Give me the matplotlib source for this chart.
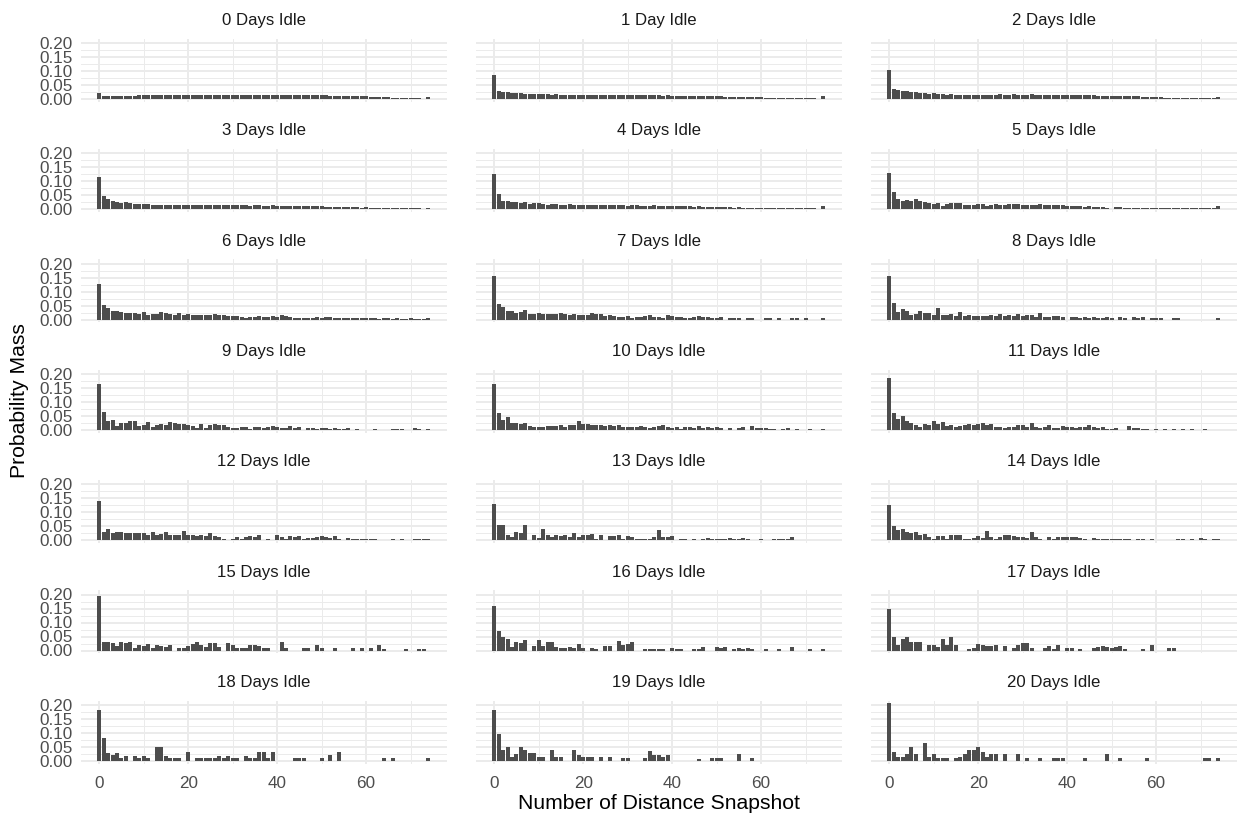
import numpy as np
import matplotlib
matplotlib.use("Agg")
import matplotlib.pyplot as plt
from matplotlib.ticker import FixedLocator

plt.rcParams['font.family'] = ['Liberation Sans', 'DejaVu Sans']

snapshot = np.arange(75)
panel_titles = ["0 Days Idle", "1 Day Idle", "2 Days Idle", "3 Days Idle", "4 Days Idle",
                "5 Days Idle", "6 Days Idle", "7 Days Idle", "8 Days Idle", "9 Days Idle",
                "10 Days Idle", "11 Days Idle", "12 Days Idle", "13 Days Idle", "14 Days Idle",
                "15 Days Idle", "16 Days Idle", "17 Days Idle", "18 Days Idle", "19 Days Idle",
                "20 Days Idle"]
x_ticks = [0, 20, 40, 60]
y_ticks = [0.00, 0.05, 0.10, 0.15, 0.20]
y_tick_labels = ["0.00", "0.05", "0.10", "0.15", "0.20"]

idle_00 = [0.020, 0.012, 0.011, 0.011, 0.011, 0.012, 0.011, 0.012, 0.012, 0.013,
           0.013, 0.013, 0.013, 0.013, 0.014, 0.013, 0.014, 0.014, 0.014, 0.014,
           0.014, 0.014, 0.014, 0.015, 0.014, 0.014, 0.015, 0.014, 0.014, 0.014,
           0.015, 0.014, 0.014, 0.014, 0.015, 0.014, 0.014, 0.014, 0.014, 0.014,
           0.015, 0.014, 0.014, 0.014, 0.014, 0.014, 0.014, 0.014, 0.013, 0.013,
           0.013, 0.013, 0.012, 0.012, 0.012, 0.011, 0.011, 0.010, 0.010, 0.009,
           0.009, 0.008, 0.007, 0.007, 0.006, 0.006, 0.005, 0.005, 0.004, 0.003,
           0.003, 0.002, 0.002, 0.001, 0.008]
idle_01 = [0.085, 0.030, 0.026, 0.024, 0.022, 0.021, 0.020, 0.019, 0.019, 0.018,
           0.018, 0.017, 0.017, 0.016, 0.017, 0.016, 0.016, 0.015, 0.016, 0.015,
           0.015, 0.015, 0.015, 0.014, 0.015, 0.014, 0.014, 0.015, 0.014, 0.014,
           0.014, 0.014, 0.013, 0.014, 0.013, 0.013, 0.013, 0.013, 0.012, 0.013,
           0.012, 0.012, 0.012, 0.011, 0.011, 0.011, 0.010, 0.010, 0.010, 0.009,
           0.009, 0.009, 0.008, 0.008, 0.008, 0.007, 0.007, 0.007, 0.006, 0.007,
           0.006, 0.005, 0.005, 0.005, 0.004, 0.004, 0.004, 0.004, 0.003, 0.003,
           0.003, 0.002, 0.002, 0.001, 0.009]
idle_02 = [0.105, 0.037, 0.031, 0.027, 0.027, 0.024, 0.025, 0.021, 0.022, 0.019,
           0.020, 0.017, 0.018, 0.016, 0.017, 0.016, 0.016, 0.016, 0.015, 0.016,
           0.016, 0.015, 0.015, 0.016, 0.015, 0.017, 0.014, 0.015, 0.018, 0.014,
           0.015, 0.014, 0.017, 0.014, 0.014, 0.013, 0.014, 0.013, 0.015, 0.013,
           0.013, 0.014, 0.013, 0.013, 0.014, 0.013, 0.013, 0.012, 0.012, 0.012,
           0.011, 0.011, 0.010, 0.010, 0.009, 0.009, 0.009, 0.008, 0.007, 0.008,
           0.006, 0.006, 0.005, 0.005, 0.005, 0.004, 0.004, 0.003, 0.003, 0.003,
           0.003, 0.002, 0.002, 0.002, 0.008]
idle_03 = [0.115, 0.047, 0.036, 0.028, 0.026, 0.022, 0.027, 0.021, 0.019, 0.020,
           0.018, 0.018, 0.017, 0.017, 0.016, 0.016, 0.015, 0.016, 0.016, 0.015,
           0.015, 0.014, 0.015, 0.016, 0.015, 0.014, 0.014, 0.016, 0.014, 0.015,
           0.014, 0.016, 0.015, 0.014, 0.013, 0.014, 0.015, 0.013, 0.012, 0.014,
           0.012, 0.013, 0.012, 0.012, 0.013, 0.011, 0.012, 0.011, 0.010, 0.011,
           0.010, 0.009, 0.008, 0.009, 0.008, 0.008, 0.007, 0.008, 0.007, 0.006,
           0.007, 0.004, 0.006, 0.005, 0.004, 0.005, 0.004, 0.004, 0.003, 0.004,
           0.003, 0.003, 0.003, 0.002, 0.006]
idle_04 = [0.125, 0.055, 0.030, 0.029, 0.027, 0.026, 0.022, 0.025, 0.020, 0.021,
           0.022, 0.019, 0.017, 0.020, 0.018, 0.016, 0.017, 0.018, 0.016, 0.017,
           0.016, 0.015, 0.016, 0.017, 0.015, 0.016, 0.014, 0.015, 0.015, 0.014,
           0.013, 0.015, 0.014, 0.013, 0.012, 0.013, 0.014, 0.012, 0.011, 0.012,
           0.011, 0.012, 0.010, 0.010, 0.011, 0.009, 0.010, 0.009, 0.008, 0.009,
           0.008, 0.007, 0.007, 0.008, 0.006, 0.007, 0.006, 0.005, 0.006, 0.005,
           0.005, 0.006, 0.004, 0.005, 0.004, 0.005, 0.004, 0.004, 0.003, 0.004,
           0.003, 0.003, 0.003, 0.002, 0.010]
idle_05 = [0.130, 0.060, 0.035, 0.031, 0.033, 0.031, 0.036, 0.030, 0.025, 0.023,
           0.020, 0.022, 0.013, 0.020, 0.021, 0.022, 0.021, 0.017, 0.014, 0.017,
           0.019, 0.018, 0.013, 0.016, 0.018, 0.017, 0.015, 0.019, 0.020, 0.018,
           0.015, 0.016, 0.017, 0.015, 0.018, 0.015, 0.016, 0.015, 0.016, 0.015,
           0.013, 0.012, 0.012, 0.011, 0.008, 0.010, 0.007, 0.009, 0.009, 0.005,
           0.000, 0.009, 0.008, 0.006, 0.004, 0.004, 0.005, 0.006, 0.004, 0.004,
           0.005, 0.004, 0.003, 0.005, 0.004, 0.003, 0.004, 0.003, 0.004, 0.004,
           0.003, 0.003, 0.004, 0.003, 0.013]
idle_06 = [0.128, 0.052, 0.040, 0.030, 0.029, 0.028, 0.022, 0.025, 0.023, 0.021,
           0.026, 0.018, 0.021, 0.019, 0.027, 0.022, 0.019, 0.018, 0.022, 0.018,
           0.020, 0.018, 0.016, 0.016, 0.018, 0.015, 0.019, 0.018, 0.016, 0.013,
           0.012, 0.013, 0.011, 0.007, 0.010, 0.011, 0.013, 0.009, 0.008, 0.013,
           0.010, 0.016, 0.013, 0.009, 0.006, 0.004, 0.006, 0.005, 0.007, 0.008,
           0.007, 0.008, 0.008, 0.006, 0.005, 0.007, 0.004, 0.004, 0.004, 0.005,
           0.004, 0.004, 0.004, 0.003, 0.004, 0.004, 0.003, 0.004, 0.003, 0.003,
           0.004, 0.003, 0.002, 0.003, 0.005]
idle_07 = [0.155, 0.057, 0.045, 0.031, 0.030, 0.024, 0.027, 0.035, 0.021, 0.020,
           0.022, 0.020, 0.021, 0.020, 0.019, 0.022, 0.020, 0.018, 0.019, 0.017,
           0.015, 0.018, 0.022, 0.021, 0.020, 0.014, 0.018, 0.012, 0.011, 0.010,
           0.013, 0.006, 0.011, 0.009, 0.013, 0.016, 0.011, 0.009, 0.007, 0.018,
           0.012, 0.009, 0.011, 0.006, 0.005, 0.008, 0.012, 0.010, 0.008, 0.004,
           0.004, 0.010, 0.000, 0.007, 0.004, 0.004, 0.000, 0.006, 0.005, 0.000,
           0.000, 0.004, 0.004, 0.000, 0.004, 0.000, 0.000, 0.004, 0.004, 0.000,
           0.004, 0.000, 0.000, 0.000, 0.004]
idle_08 = [0.155, 0.060, 0.028, 0.037, 0.030, 0.018, 0.020, 0.030, 0.022, 0.025,
           0.018, 0.040, 0.015, 0.018, 0.020, 0.014, 0.028, 0.014, 0.015, 0.012,
           0.013, 0.012, 0.014, 0.015, 0.013, 0.020, 0.012, 0.015, 0.012, 0.020,
           0.012, 0.016, 0.018, 0.010, 0.024, 0.008, 0.008, 0.012, 0.013, 0.008,
           0.000, 0.008, 0.010, 0.006, 0.009, 0.005, 0.008, 0.007, 0.004, 0.009,
           0.005, 0.000, 0.008, 0.004, 0.000, 0.008, 0.005, 0.009, 0.000, 0.004,
           0.007, 0.005, 0.000, 0.000, 0.007, 0.004, 0.000, 0.000, 0.000, 0.000,
           0.000, 0.000, 0.000, 0.000, 0.004]
idle_09 = [0.165, 0.065, 0.030, 0.035, 0.015, 0.024, 0.025, 0.031, 0.030, 0.014,
           0.018, 0.027, 0.011, 0.019, 0.020, 0.016, 0.029, 0.024, 0.021, 0.020,
           0.016, 0.014, 0.008, 0.020, 0.006, 0.017, 0.021, 0.019, 0.019, 0.012,
           0.008, 0.007, 0.010, 0.012, 0.004, 0.010, 0.012, 0.005, 0.009, 0.013,
           0.010, 0.008, 0.007, 0.015, 0.005, 0.009, 0.000, 0.006, 0.007, 0.004,
           0.008, 0.007, 0.004, 0.008, 0.004, 0.004, 0.007, 0.000, 0.004, 0.000,
           0.000, 0.000, 0.004, 0.000, 0.000, 0.000, 0.004, 0.004, 0.004, 0.000,
           0.000, 0.005, 0.004, 0.000, 0.004]
idle_10 = [0.165, 0.060, 0.035, 0.045, 0.024, 0.026, 0.022, 0.025, 0.015, 0.010,
           0.012, 0.012, 0.014, 0.013, 0.015, 0.016, 0.012, 0.017, 0.018, 0.030,
           0.020, 0.021, 0.019, 0.016, 0.016, 0.014, 0.018, 0.014, 0.016, 0.010,
           0.012, 0.009, 0.011, 0.013, 0.012, 0.006, 0.010, 0.014, 0.016, 0.010,
           0.008, 0.009, 0.004, 0.012, 0.010, 0.005, 0.014, 0.008, 0.012, 0.008,
           0.010, 0.007, 0.000, 0.006, 0.000, 0.006, 0.010, 0.000, 0.013, 0.006,
           0.005, 0.006, 0.004, 0.004, 0.000, 0.004, 0.005, 0.000, 0.004, 0.000,
           0.000, 0.004, 0.000, 0.000, 0.004]
idle_11 = [0.185, 0.060, 0.038, 0.050, 0.030, 0.026, 0.018, 0.012, 0.020, 0.019,
           0.030, 0.020, 0.027, 0.014, 0.016, 0.010, 0.014, 0.017, 0.020, 0.018,
           0.022, 0.023, 0.018, 0.020, 0.012, 0.010, 0.008, 0.012, 0.010, 0.016,
           0.016, 0.012, 0.024, 0.012, 0.008, 0.010, 0.016, 0.007, 0.008, 0.014,
           0.010, 0.010, 0.005, 0.012, 0.012, 0.016, 0.011, 0.008, 0.009, 0.004,
           0.004, 0.008, 0.000, 0.000, 0.015, 0.006, 0.006, 0.004, 0.004, 0.000,
           0.004, 0.000, 0.004, 0.000, 0.004, 0.000, 0.004, 0.000, 0.004, 0.000,
           0.000, 0.004, 0.000, 0.000, 0.000]
idle_12 = [0.140, 0.030, 0.040, 0.025, 0.028, 0.031, 0.026, 0.025, 0.027, 0.026,
           0.027, 0.018, 0.030, 0.020, 0.022, 0.030, 0.020, 0.017, 0.020, 0.034,
           0.020, 0.019, 0.014, 0.018, 0.014, 0.025, 0.016, 0.010, 0.004, 0.000,
           0.006, 0.010, 0.005, 0.010, 0.014, 0.012, 0.018, 0.000, 0.006, 0.000,
           0.018, 0.013, 0.006, 0.014, 0.011, 0.016, 0.005, 0.007, 0.008, 0.011,
           0.015, 0.011, 0.009, 0.014, 0.004, 0.000, 0.007, 0.004, 0.004, 0.004,
           0.004, 0.004, 0.004, 0.000, 0.000, 0.000, 0.004, 0.000, 0.004, 0.000,
           0.000, 0.004, 0.004, 0.004, 0.004]
idle_13 = [0.130, 0.055, 0.055, 0.020, 0.011, 0.028, 0.025, 0.055, 0.000, 0.018,
           0.008, 0.040, 0.018, 0.011, 0.020, 0.016, 0.018, 0.010, 0.027, 0.010,
           0.018, 0.020, 0.022, 0.006, 0.020, 0.000, 0.016, 0.015, 0.018, 0.006,
           0.014, 0.012, 0.006, 0.005, 0.004, 0.006, 0.012, 0.035, 0.012, 0.010,
           0.014, 0.000, 0.006, 0.004, 0.000, 0.006, 0.000, 0.006, 0.007, 0.004,
           0.006, 0.005, 0.005, 0.007, 0.006, 0.006, 0.008, 0.006, 0.000, 0.000,
           0.004, 0.000, 0.000, 0.006, 0.005, 0.005, 0.005, 0.010, 0.000, 0.000,
           0.000, 0.000, 0.000, 0.000, 0.000]
idle_14 = [0.125, 0.050, 0.035, 0.040, 0.029, 0.026, 0.028, 0.018, 0.022, 0.012,
           0.005, 0.014, 0.014, 0.006, 0.020, 0.020, 0.018, 0.004, 0.004, 0.008,
           0.014, 0.008, 0.034, 0.010, 0.005, 0.012, 0.018, 0.018, 0.014, 0.012,
           0.013, 0.008, 0.030, 0.012, 0.006, 0.000, 0.012, 0.004, 0.010, 0.010,
           0.010, 0.010, 0.012, 0.008, 0.006, 0.000, 0.008, 0.006, 0.006, 0.004,
           0.006, 0.004, 0.006, 0.006, 0.004, 0.000, 0.004, 0.004, 0.000, 0.004,
           0.000, 0.000, 0.000, 0.000, 0.000, 0.004, 0.004, 0.000, 0.004, 0.000,
           0.008, 0.004, 0.000, 0.004, 0.004]
idle_15 = [0.195, 0.032, 0.032, 0.028, 0.016, 0.030, 0.028, 0.032, 0.010, 0.020,
           0.016, 0.024, 0.010, 0.020, 0.016, 0.012, 0.018, 0.000, 0.010, 0.010,
           0.016, 0.022, 0.030, 0.020, 0.012, 0.026, 0.026, 0.014, 0.000, 0.026,
           0.018, 0.010, 0.008, 0.010, 0.018, 0.018, 0.016, 0.010, 0.008, 0.000,
           0.000, 0.032, 0.008, 0.000, 0.000, 0.000, 0.010, 0.010, 0.000, 0.018,
           0.010, 0.000, 0.000, 0.010, 0.000, 0.000, 0.000, 0.010, 0.000, 0.008,
           0.000, 0.008, 0.000, 0.020, 0.006, 0.000, 0.000, 0.000, 0.000, 0.006,
           0.000, 0.000, 0.006, 0.006, 0.000]
idle_16 = [0.160, 0.068, 0.050, 0.042, 0.014, 0.030, 0.028, 0.038, 0.000, 0.015,
           0.038, 0.015, 0.030, 0.030, 0.014, 0.010, 0.008, 0.012, 0.008, 0.022,
           0.008, 0.000, 0.010, 0.006, 0.000, 0.015, 0.015, 0.000, 0.035, 0.018,
           0.022, 0.030, 0.000, 0.000, 0.006, 0.005, 0.005, 0.005, 0.005, 0.000,
           0.010, 0.006, 0.006, 0.000, 0.000, 0.004, 0.006, 0.012, 0.000, 0.000,
           0.012, 0.008, 0.012, 0.000, 0.006, 0.010, 0.005, 0.008, 0.004, 0.000,
           0.000, 0.005, 0.000, 0.000, 0.005, 0.000, 0.000, 0.012, 0.000, 0.000,
           0.000, 0.005, 0.000, 0.000, 0.005]
idle_17 = [0.150, 0.050, 0.020, 0.040, 0.048, 0.030, 0.030, 0.030, 0.000, 0.018,
           0.018, 0.012, 0.040, 0.018, 0.050, 0.018, 0.000, 0.000, 0.006, 0.008,
           0.024, 0.018, 0.016, 0.016, 0.020, 0.000, 0.016, 0.000, 0.010, 0.020,
           0.026, 0.026, 0.010, 0.000, 0.000, 0.008, 0.016, 0.006, 0.018, 0.000,
           0.008, 0.008, 0.000, 0.006, 0.000, 0.000, 0.010, 0.012, 0.016, 0.012,
           0.010, 0.012, 0.016, 0.006, 0.000, 0.000, 0.000, 0.006, 0.000, 0.018,
           0.000, 0.000, 0.000, 0.008, 0.008, 0.000, 0.000, 0.000, 0.000, 0.000,
           0.000, 0.000, 0.000, 0.000, 0.000]
idle_18 = [0.180, 0.080, 0.028, 0.020, 0.028, 0.010, 0.018, 0.000, 0.018, 0.010,
           0.018, 0.010, 0.000, 0.050, 0.050, 0.018, 0.010, 0.010, 0.010, 0.000,
           0.030, 0.000, 0.010, 0.010, 0.010, 0.010, 0.010, 0.016, 0.010, 0.018,
           0.010, 0.010, 0.000, 0.018, 0.010, 0.010, 0.030, 0.030, 0.010, 0.030,
           0.000, 0.000, 0.000, 0.000, 0.010, 0.010, 0.010, 0.000, 0.000, 0.000,
           0.010, 0.000, 0.020, 0.000, 0.030, 0.000, 0.000, 0.000, 0.000, 0.000,
           0.000, 0.000, 0.000, 0.000, 0.010, 0.000, 0.010, 0.000, 0.000, 0.000,
           0.000, 0.000, 0.000, 0.000, 0.010]
idle_19 = [0.180, 0.095, 0.038, 0.048, 0.015, 0.025, 0.048, 0.038, 0.028, 0.027,
           0.015, 0.014, 0.000, 0.038, 0.012, 0.012, 0.000, 0.000, 0.038, 0.022,
           0.012, 0.014, 0.012, 0.000, 0.012, 0.000, 0.012, 0.000, 0.000, 0.010,
           0.010, 0.000, 0.000, 0.000, 0.010, 0.036, 0.020, 0.020, 0.012, 0.022,
           0.000, 0.000, 0.000, 0.000, 0.000, 0.000, 0.008, 0.000, 0.000, 0.010,
           0.010, 0.010, 0.000, 0.000, 0.000, 0.025, 0.000, 0.000, 0.010, 0.000,
           0.000, 0.000, 0.000, 0.000, 0.000, 0.000, 0.000, 0.000, 0.000, 0.000,
           0.000, 0.000, 0.000, 0.000, 0.000]
idle_20 = [0.205, 0.030, 0.015, 0.015, 0.025, 0.050, 0.025, 0.000, 0.065, 0.015,
           0.025, 0.010, 0.010, 0.010, 0.000, 0.010, 0.015, 0.025, 0.040, 0.040,
           0.050, 0.030, 0.015, 0.025, 0.025, 0.000, 0.025, 0.000, 0.000, 0.025,
           0.000, 0.010, 0.000, 0.000, 0.010, 0.000, 0.000, 0.010, 0.010, 0.010,
           0.000, 0.000, 0.000, 0.000, 0.010, 0.000, 0.000, 0.000, 0.000, 0.025,
           0.000, 0.000, 0.010, 0.000, 0.000, 0.000, 0.000, 0.000, 0.010, 0.000,
           0.000, 0.000, 0.000, 0.000, 0.000, 0.000, 0.000, 0.000, 0.000, 0.000,
           0.000, 0.010, 0.010, 0.000, 0.010]

panels = [idle_00, idle_01, idle_02, idle_03, idle_04, idle_05, idle_06,
          idle_07, idle_08, idle_09, idle_10, idle_11, idle_12, idle_13,
          idle_14, idle_15, idle_16, idle_17, idle_18, idle_19, idle_20]

W, H = 1239, 813
fig = plt.figure(figsize=(W / 100, H / 100), dpi=100)
fig.patch.set_facecolor("white")

col_left = [80.5, 475.5, 870.5]
panel_w = 366.5
zero_y = 99.0
row_step = 110.3
ppu = 280.0
ymax_all = max(max(p) for p in panels)
ymin, ymax = -0.05 * ymax_all, 1.05 * ymax_all
panel_h = (ymax - ymin) * ppu
xmin, xmax = -0.45 - 0.05 * 74.9, 74.45 + 0.05 * 74.9

grid_col = "#EBEBEB"
for i, (vals, title) in enumerate(zip(panels, panel_titles)):
    r, c = divmod(i, 3)
    top = zero_y + r * row_step - ymax * ppu
    ax = fig.add_axes([col_left[c] / W, 1 - (top + panel_h) / H, panel_w / W, panel_h / H])
    ax.set_facecolor("white")
    ax.bar(snapshot, vals, width=0.9, color="#4D4D4D", linewidth=0, zorder=3)
    ax.set_xlim(xmin, xmax)
    ax.set_ylim(ymin, ymax)
    for s in ax.spines.values():
        s.set_visible(False)
    ax.xaxis.set_major_locator(FixedLocator(x_ticks))
    ax.xaxis.set_minor_locator(FixedLocator([10, 30, 50, 70]))
    ax.yaxis.set_major_locator(FixedLocator(y_ticks))
    ax.yaxis.set_minor_locator(FixedLocator([0.025, 0.075, 0.125, 0.175]))
    ax.grid(True, which="major", color=grid_col, linewidth=1.4, zorder=0)
    ax.grid(True, which="minor", color=grid_col, linewidth=0.7, zorder=0)
    ax.set_axisbelow(True)
    ax.tick_params(which="both", length=0)
    ax.tick_params(axis="y", pad=6.0, labelsize=12.3, labelcolor="#4D4D4D")
    ax.tick_params(axis="x", pad=9.0, labelsize=12.3, labelcolor="#4D4D4D")
    if c == 0:
        ax.set_yticklabels(y_tick_labels)
    else:
        ax.set_yticklabels([])
    if r == 6:
        ax.set_xticklabels([str(t) for t in x_ticks])
    else:
        ax.set_xticklabels([])
    cx = (col_left[c] + panel_w / 2) / W
    fig.text(cx, 1 - (25 + r * row_step) / H, title, ha="center", va="baseline",
             fontsize=12.1, color="#1A1A1A")

fig.text((col_left[0] + col_left[2] + panel_w) / 2 / W, 1 - 809 / H,
         "Number of Distance Snapshot", ha="center", va="baseline",
         fontsize=15.2, color="black")
fig.text(20 / W, 1 - 401 / H, "Probability Mass", ha="center", va="center",
         rotation=90, fontsize=15.2, color="black")

fig.savefig("out.png", dpi=100, facecolor="white")
